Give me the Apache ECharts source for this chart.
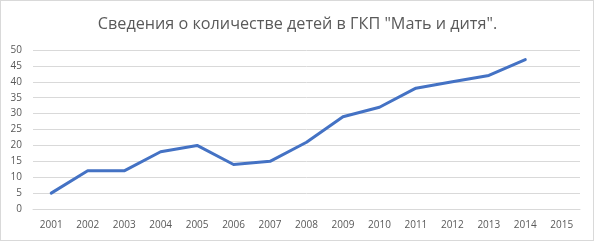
<!DOCTYPE html>
<html><head><meta charset="utf-8">
<script src="https://cdn.jsdelivr.net/npm/echarts@6/dist/echarts.min.js"></script>
<style>
html,body{margin:0;padding:0;background:#fff;}
#frame{position:absolute;left:0;top:0;width:592px;height:239px;border:1px solid #d9d9d9;box-sizing:content-box;}
#c{position:absolute;left:0;top:0;width:595px;height:242px;}
</style></head>
<body>
<div id="frame"></div>
<div id="c"></div>
<script>
const titleText = 'Сведения о количестве детей в ГКП "Мать и дитя".';
const years = ['2001','2002','2003','2004','2005','2006','2007','2008','2009','2010','2011','2012','2013','2014','2015'];
const children = [5,12,12,18,20,14,15,21,29,32,38,40,42,47,null];
const yTicks = {min:0, max:50, interval:5};

const chart = echarts.init(document.getElementById('c'), null, {renderer:'canvas'});
chart.setOption({
  animation:false,
  title:{text:titleText,left:'center',top:11,textStyle:{fontFamily:'"Open Sans", "Noto Sans", sans-serif',fontSize:16.2,fontWeight:'normal',color:'#595959'}},
  grid:{left:33,right:15,top:50,bottom:33,containLabel:false},
  xAxis:{type:'category',data:years,boundaryGap:true,
    axisLine:{show:true,lineStyle:{color:'#d9d9d9'}},axisTick:{show:false},
    axisLabel:{color:'#595959',fontSize:10,margin:11,fontFamily:'"Open Sans", "Noto Sans", sans-serif'}},
  yAxis:{type:'value',min:yTicks.min,max:yTicks.max,interval:yTicks.interval,
    axisLine:{show:false},axisTick:{show:false},
    splitLine:{lineStyle:{color:'#d9d9d9',width:1}},
    axisLabel:{color:'#595959',fontSize:10,margin:11,fontFamily:'"Open Sans", "Noto Sans", sans-serif'}},
  series:[{type:'line',data:children,symbol:'none',connectNulls:false,
    lineStyle:{color:'#4472c4',width:3,cap:'round',join:'round'}}]
});
</script>
</body></html>
